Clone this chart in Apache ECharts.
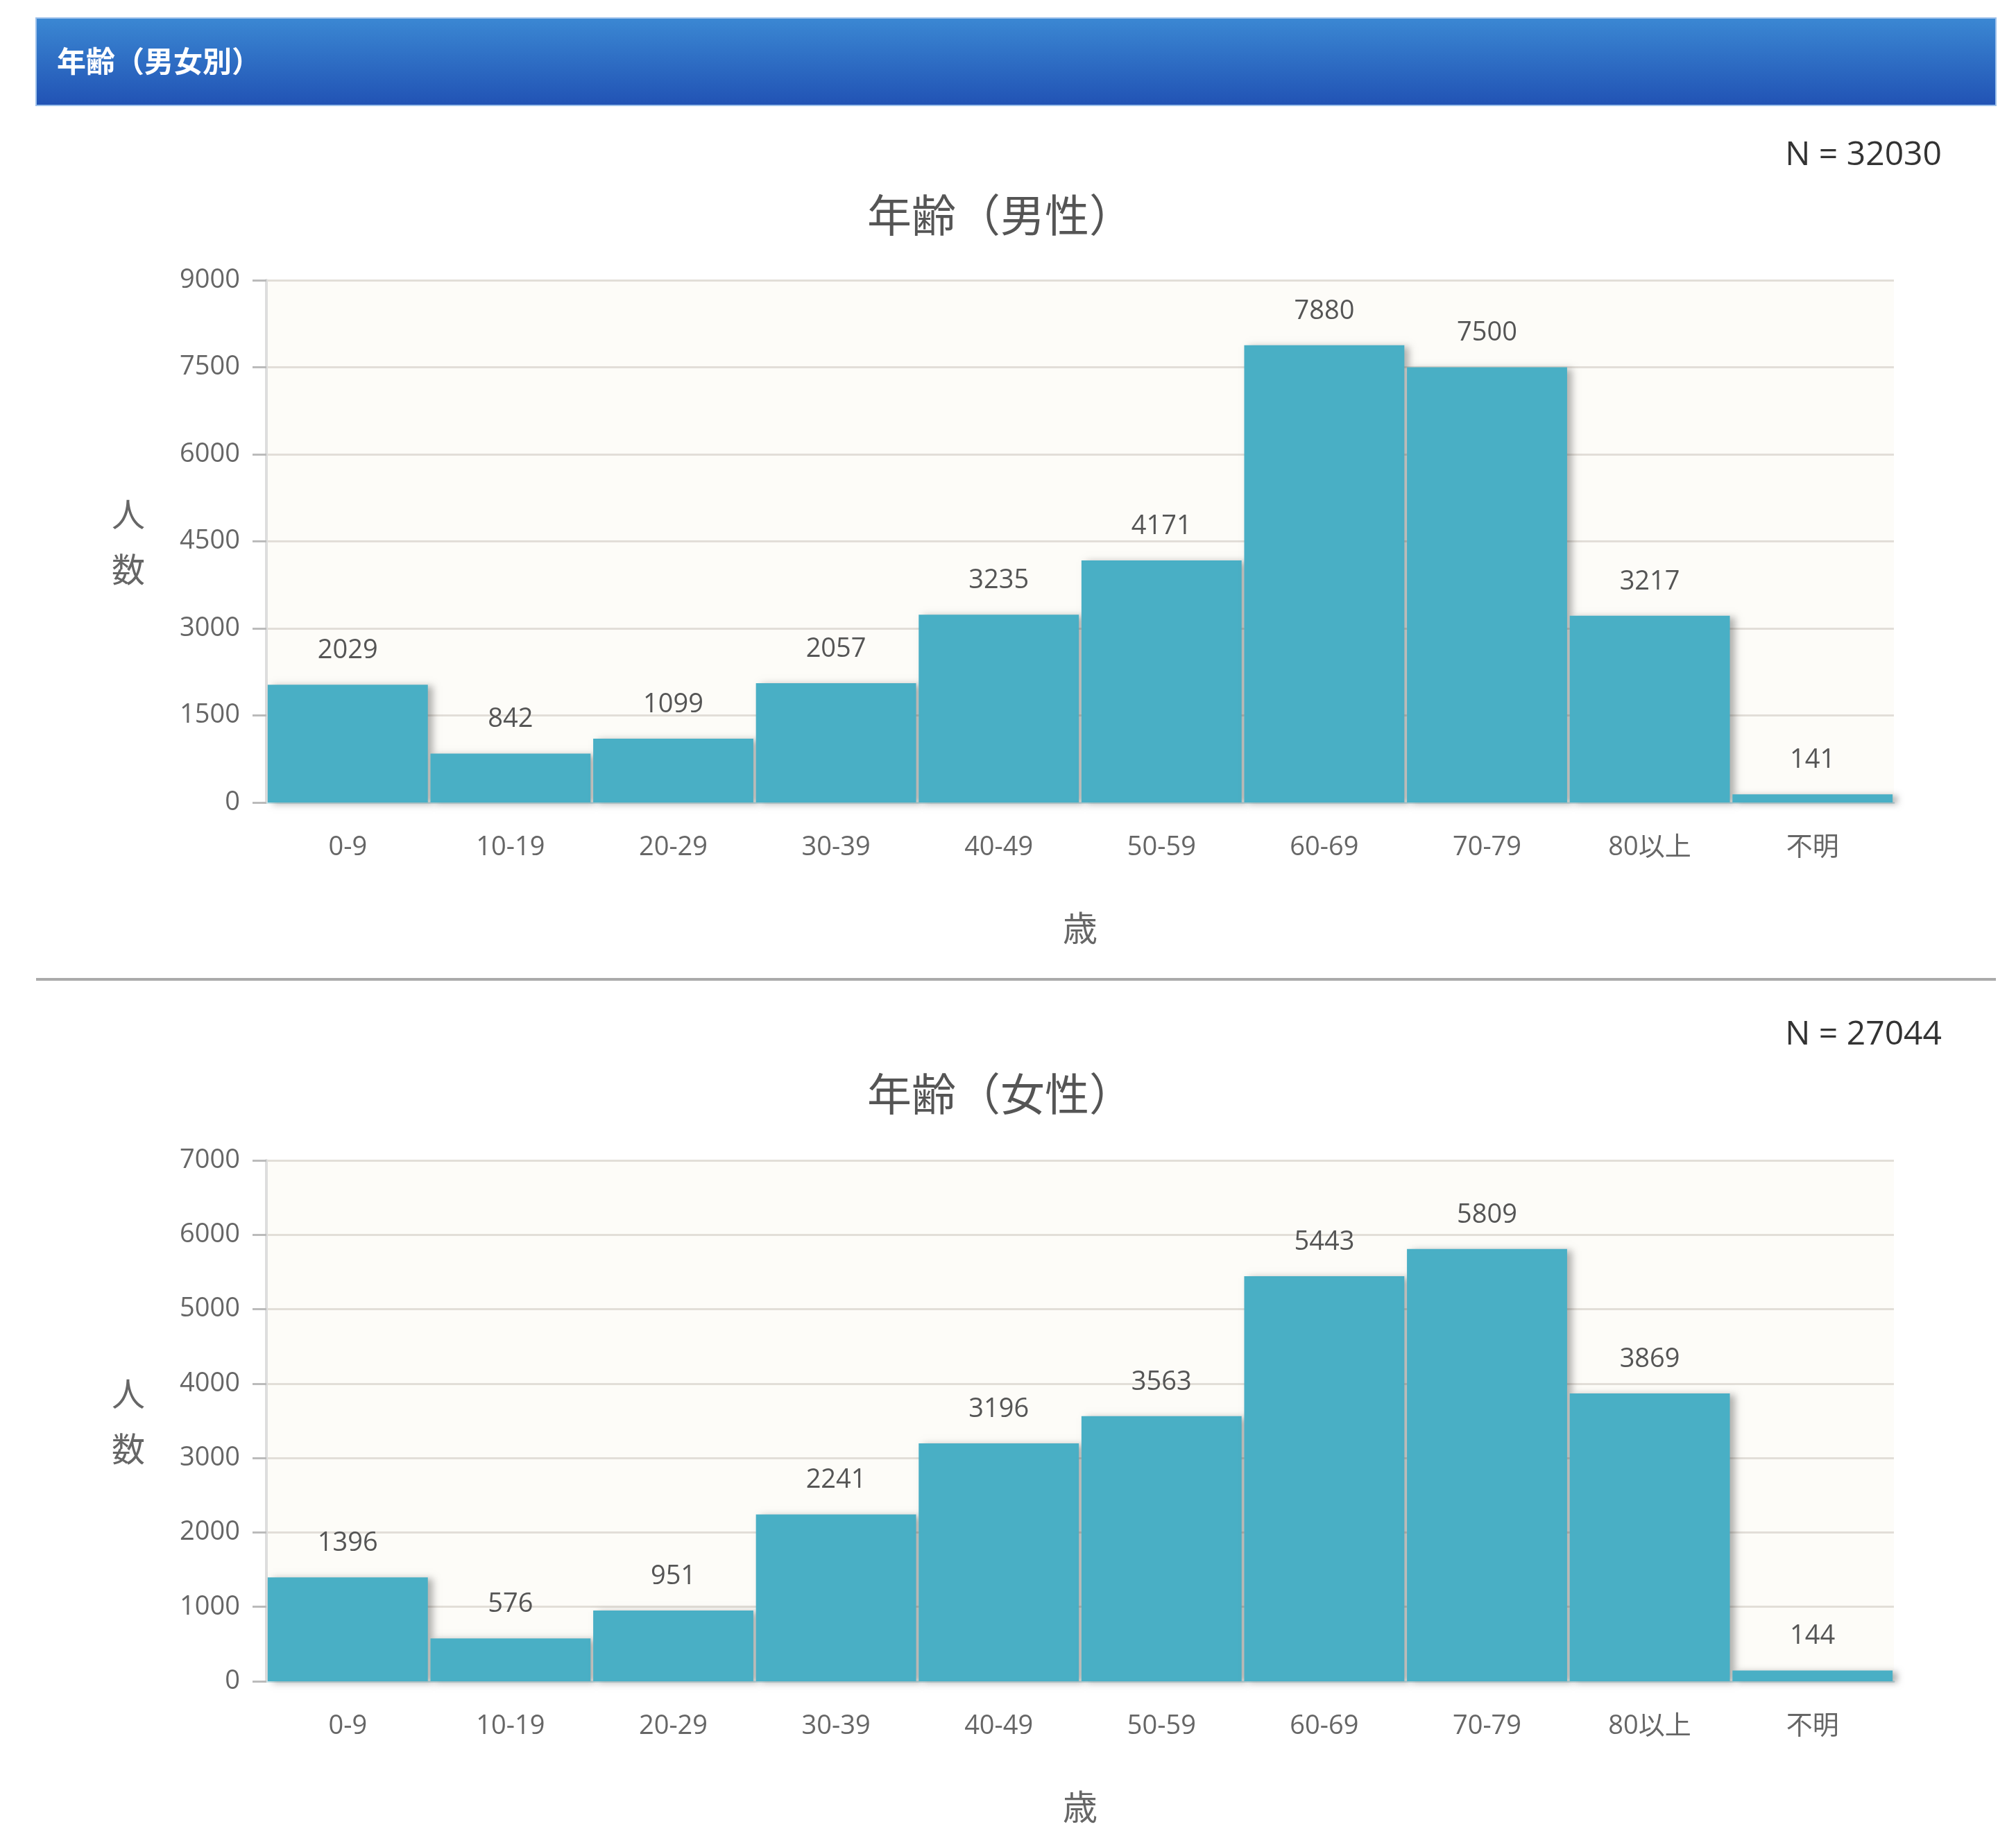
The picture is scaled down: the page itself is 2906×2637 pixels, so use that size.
<!DOCTYPE html>
<html><head><meta charset="utf-8">
<script src="https://cdn.jsdelivr.net/npm/echarts@6/dist/echarts.min.js"></script>
<style>html,body{margin:0;padding:0;background:#fff}#c{width:2906px;height:2637px}</style>
</head><body><div id="c"></div>
<script>
const categories = ['0-9','10-19','20-29','30-39','40-49','50-59','60-69','70-79','80以上','不明'];
const maleValues = [2029, 842, 1099, 2057, 3235, 4171, 7880, 7500, 3217, 141];
const femaleValues = [1396, 576, 951, 2241, 3196, 3563, 5443, 5809, 3869, 144];
const maleTicks = {min: 0, max: 9000, interval: 1500};
const femaleTicks = {min: 0, max: 7000, interval: 1000};
const headerTitle = '年齢（男女別）';
const maleTitle = '年齢（男性）';
const femaleTitle = '年齢（女性）';
const maleN = 'N = 32030';
const femaleN = 'N = 27044';

const FONT = '"Open Sans","Noto Sans CJK JP",sans-serif';
const CJK = '"Noto Sans CJK JP","Noto Sans",sans-serif';
const BAR = '#49AFC5';

function xAxis(gi){
  return {
    type:'category', gridIndex:gi, data:categories,
    axisLine:{show:true,lineStyle:{color:'#cfe6ea',width:3}},
    axisTick:{show:false},
    axisLabel:{color:'#666',fontSize:38,fontFamily:FONT,margin:46},
    name:'歳', nameLocation:'middle', nameGap:156,
    nameTextStyle:{color:'#666',fontSize:50,fontFamily:CJK}
  };
}
function yAxis(gi,t){
  return {
    type:'value', gridIndex:gi, min:t.min, max:t.max, interval:t.interval,
    axisLine:{show:true,lineStyle:{color:'#ddd',width:4}},
    axisTick:{show:true,length:20,lineStyle:{color:'#bbb',width:3}},
    axisLabel:{color:'#666',fontSize:38,fontFamily:FONT,margin:38,formatter:function(v){return String(v);}},
    splitLine:{show:true,lineStyle:{color:'#e2ded8',width:3}},
    name:'人\n数', nameLocation:'middle', nameGap:175, nameRotate:0,
    nameTextStyle:{color:'#666',fontSize:48,fontFamily:CJK,lineHeight:80}
  };
}
function series(gi,vals){
  return {
    type:'bar', xAxisIndex:gi, yAxisIndex:gi, data:vals,
    barCategoryGap:'1.6%',
    itemStyle:{color:BAR, shadowColor:'rgba(0,0,0,0.3)', shadowBlur:10, shadowOffsetX:7, shadowOffsetY:2},
    label:{show:true,position:'top',distance:30,color:'#555',fontSize:38,fontFamily:FONT},
    emphasis:{disabled:true}, animation:false
  };
}

const chart = echarts.init(document.getElementById('c'), null, {renderer:'canvas'});
chart.setOption({
  backgroundColor:'#ffffff',
  animation:false,
  grid:[
    {left:384, top:404, width:2346, height:753, show:true, backgroundColor:'#FDFCF8', borderWidth:0, containLabel:false, outerBoundsMode:'none'},
    {left:384, top:1673, width:2346, height:751, show:true, backgroundColor:'#FDFCF8', borderWidth:0, containLabel:false, outerBoundsMode:'none'}
  ],
  xAxis:[xAxis(0), xAxis(1)],
  yAxis:[yAxis(0,maleTicks), yAxis(1,femaleTicks)],
  series:[series(0,maleValues), series(1,femaleValues)],
  graphic:[
    {type:'rect', shape:{x:52,y:26,width:2825,height:126},
      style:{fill:new echarts.graphic.LinearGradient(0,0,0,1,[{offset:0,color:'#3B88D3'},{offset:1,color:'#2152B4'}]), stroke:'#9cc0ea', lineWidth:2}},
    {type:'text', x:82, y:88, style:{text:headerTitle, fill:'#ffffff', font:'bold 42px '+CJK, textAlign:'left', textVerticalAlign:'middle', verticalAlign:'middle'}},
    {type:'text', x:2799, y:224, style:{text:maleN, fill:'#333', font:'48px '+FONT, textAlign:'right', textVerticalAlign:'middle', verticalAlign:'middle'}},
    {type:'text', x:1442, y:310, style:{text:maleTitle, fill:'#555', font:'64px '+CJK, textAlign:'center', textVerticalAlign:'middle', verticalAlign:'middle'}},
    {type:'line', shape:{x1:52,y1:1412,x2:2877,y2:1412}, style:{stroke:'#aaaaaa', lineWidth:4}},
    {type:'text', x:2799, y:1492, style:{text:femaleN, fill:'#333', font:'48px '+FONT, textAlign:'right', textVerticalAlign:'middle', verticalAlign:'middle'}},
    {type:'text', x:1442, y:1577, style:{text:femaleTitle, fill:'#555', font:'64px '+CJK, textAlign:'center', textVerticalAlign:'middle', verticalAlign:'middle'}}
  ]
});
</script></body></html>
